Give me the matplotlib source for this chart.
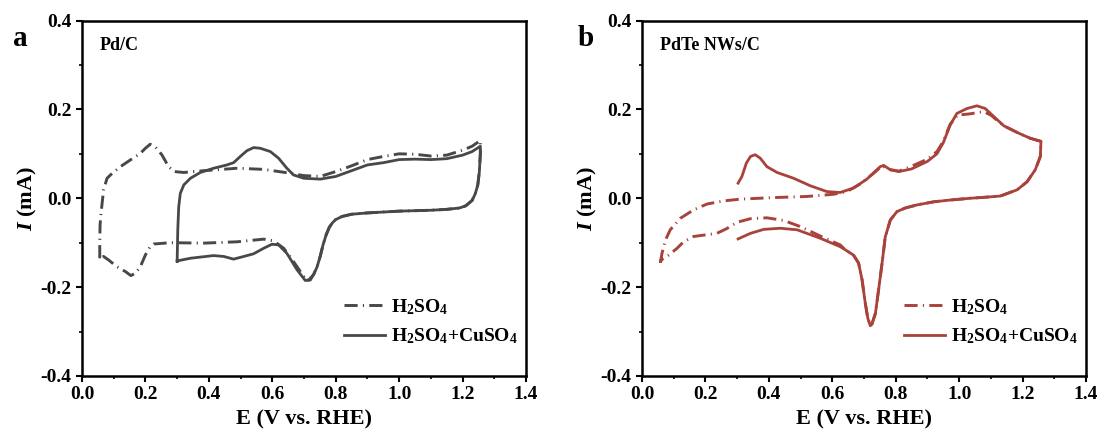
import matplotlib
matplotlib.use("Agg")
import matplotlib.pyplot as plt
from matplotlib.ticker import MultipleLocator

plt.rcParams['font.family'] = ['Liberation Serif', 'DejaVu Serif']
plt.rcParams['font.weight'] = 'bold'
plt.rcParams['mathtext.fontset'] = 'custom'
plt.rcParams['mathtext.rm'] = 'Liberation Serif:bold'
plt.rcParams['mathtext.bf'] = 'Liberation Serif:bold'
plt.rcParams['mathtext.it'] = 'Liberation Serif:italic:bold'

# ---------------- Panel a: Pd/C ----------------
a_h2so4_x = [0.056, 0.056, 0.057, 0.06, 0.068, 0.079, 0.095, 0.121, 0.152, 0.184, 0.2, 0.215,
             0.231, 0.252, 0.273, 0.291, 0.321, 0.384, 0.489, 0.573, 0.636, 0.699, 0.751,
             0.8, 0.85, 0.9, 0.95, 1.0, 1.05, 1.1, 1.15, 1.2, 1.23, 1.256,
             1.256, 1.253, 1.248, 1.24, 1.23, 1.21, 1.19, 1.15, 1.1, 1.0, 0.95, 0.9, 0.85, 0.82,
             0.8, 0.79, 0.78, 0.77, 0.76, 0.751, 0.741, 0.73, 0.715, 0.704, 0.699, 0.667, 0.636,
             0.604, 0.573, 0.489, 0.384, 0.279, 0.226, 0.215, 0.2, 0.184, 0.168, 0.154, 0.137,
             0.11, 0.084, 0.068, 0.056]
a_h2so4_y = [-0.135, -0.101, -0.06, -0.034, 0.019, 0.045, 0.056, 0.071, 0.086, 0.101, 0.1125, 0.1215,
             0.116, 0.0975, 0.071, 0.06, 0.058, 0.062, 0.0675, 0.065, 0.0585, 0.051, 0.049,
             0.06, 0.073, 0.087, 0.094, 0.1, 0.099, 0.095, 0.097, 0.108, 0.117, 0.13,
             0.1, 0.06, 0.03, 0.01, -0.005, -0.017, -0.022, -0.025, -0.027, -0.029, -0.031, -0.033,
             -0.036, -0.041,
             -0.048, -0.055, -0.065, -0.082, -0.105, -0.131, -0.155, -0.172, -0.184, -0.185, -0.176,
             -0.1425, -0.1125, -0.096, -0.092, -0.098, -0.101, -0.1, -0.103, -0.109, -0.1275, -0.154,
             -0.169, -0.174, -0.165, -0.154, -0.139, -0.131, -0.135]

a_cu_x = [0.3, 0.302, 0.305, 0.31, 0.321, 0.342, 0.373, 0.415, 0.457, 0.478, 0.499, 0.52, 0.541,
          0.562, 0.594, 0.62, 0.646, 0.667, 0.699, 0.751, 0.8, 0.85, 0.9, 0.95, 1.0, 1.05, 1.1,
          1.15, 1.2, 1.23, 1.256,
          1.256, 1.253, 1.248, 1.24, 1.23, 1.21, 1.19, 1.15, 1.1, 1.0, 0.95, 0.9, 0.85, 0.82,
          0.8, 0.79, 0.78, 0.77, 0.76, 0.751, 0.741, 0.73, 0.72, 0.704, 0.678, 0.646, 0.62,
          0.599, 0.573, 0.541, 0.51, 0.478, 0.447, 0.415, 0.342, 0.3]
a_cu_y = [-0.1425, -0.071, -0.019, 0.011, 0.03, 0.045, 0.058, 0.0675, 0.075, 0.08, 0.094, 0.107, 0.114,
          0.1125, 0.105, 0.09, 0.0675, 0.0525, 0.045, 0.043, 0.049, 0.062, 0.075, 0.08, 0.087, 0.088,
          0.087, 0.089, 0.097, 0.105, 0.117,
          0.1, 0.06, 0.03, 0.01, -0.005, -0.017, -0.022, -0.025, -0.027, -0.029, -0.031, -0.033,
          -0.036, -0.041,
          -0.048, -0.055, -0.065, -0.082, -0.105, -0.131, -0.155, -0.172, -0.184, -0.185, -0.161,
          -0.124, -0.105, -0.1035, -0.1125, -0.125, -0.131, -0.137, -0.131, -0.129, -0.135, -0.141]

# ---------------- Panel b: PdTe NWs/C ----------------
b_h2so4_x = [0.058, 0.063, 0.074, 0.089, 0.121, 0.163, 0.205, 0.257, 0.31, 0.415, 0.52, 0.604,
             0.646, 0.688, 0.73, 0.757, 0.778, 0.81, 0.85, 0.9, 0.93, 0.95, 0.972, 0.995, 1.035,
             1.077, 1.1, 1.141, 1.183, 1.224, 1.258,
             1.256, 1.24, 1.214, 1.183, 1.13, 1.077, 1.035, 0.972, 0.92, 0.867, 0.83, 0.804,
             0.783, 0.767, 0.757, 0.746, 0.736, 0.725, 0.72, 0.712, 0.704, 0.694, 0.683, 0.667,
             0.641, 0.625, 0.562, 0.5, 0.447, 0.394, 0.342, 0.3, 0.268, 0.236, 0.194, 0.163,
             0.131, 0.11, 0.084, 0.06, 0.058]
b_h2so4_y = [-0.145, -0.124, -0.094, -0.071, -0.045, -0.026, -0.013, -0.006, -0.002, 0.0015, 0.004,
             0.009, 0.015, 0.032, 0.056, 0.073, 0.065, 0.061, 0.072, 0.088, 0.105, 0.128, 0.167,
             0.187, 0.19, 0.195, 0.187, 0.163, 0.148, 0.135, 0.128,
             0.094, 0.064, 0.037, 0.019, 0.005, 0.002, 0.0, -0.004, -0.008, -0.015, -0.022, -0.03,
             -0.049, -0.087, -0.146, -0.206, -0.259, -0.283, -0.287, -0.27, -0.236, -0.184, -0.146,
             -0.128, -0.116, -0.105, -0.085, -0.064, -0.05, -0.044, -0.046, -0.054, -0.068, -0.079,
             -0.083, -0.086, -0.098, -0.113, -0.128, -0.139, -0.145]

b_cu_x = [0.303, 0.315, 0.329, 0.342, 0.357, 0.373, 0.394, 0.426, 0.478, 0.531, 0.583, 0.625,
          0.667, 0.709, 0.751, 0.762, 0.783, 0.81, 0.85, 0.9, 0.93, 0.95, 0.972, 0.993, 1.025,
          1.056, 1.082, 1.109, 1.141, 1.183, 1.224, 1.258,
          1.256, 1.24, 1.214, 1.183, 1.13, 1.077, 1.035, 0.972, 0.92, 0.867, 0.83, 0.804,
          0.783, 0.767, 0.757, 0.746, 0.736, 0.725, 0.72, 0.712, 0.704, 0.694, 0.683, 0.667,
          0.641, 0.625, 0.562, 0.489, 0.436, 0.384, 0.342, 0.303]
b_cu_y = [0.034, 0.049, 0.079, 0.094, 0.098, 0.09, 0.071, 0.058, 0.045, 0.028, 0.015, 0.013,
          0.023, 0.043, 0.071, 0.074, 0.064, 0.06, 0.066, 0.083, 0.1, 0.125, 0.165, 0.191, 0.202,
          0.208, 0.202, 0.184, 0.163, 0.148, 0.135, 0.128,
          0.094, 0.064, 0.037, 0.019, 0.005, 0.002, 0.0, -0.004, -0.008, -0.015, -0.022, -0.03,
          -0.049, -0.087, -0.146, -0.206, -0.259, -0.283, -0.287, -0.27, -0.236, -0.184, -0.146,
          -0.128, -0.116, -0.109, -0.09, -0.071, -0.0675, -0.07, -0.079, -0.0915]

labels = [r'H$_{2}$SO$_{4}$', r'H$_{2}$SO$_{4}$+CuSO$_{4}$']
xticks = [0.0, 0.2, 0.4, 0.6, 0.8, 1.0, 1.2, 1.4]
yticks = [-0.4, -0.2, 0.0, 0.2, 0.4]

panels = [
    dict(letter='a', name='Pd/C', color='#484848',
         d=(a_h2so4_x, a_h2so4_y), s=(a_cu_x, a_cu_y), left=82, letter_x=13),
    dict(letter='b', name='PdTe NWs/C', color='#A8423A',
         d=(b_h2so4_x, b_h2so4_y), s=(b_cu_x, b_cu_y), left=642, letter_x=578),
]

W, H = 1102, 434
AX_W, AX_TOP, AX_BOT = 444, 20.5, 376
fig = plt.figure(figsize=(W / 100, H / 100), dpi=100)

for p in panels:
    ax = fig.add_axes([p['left'] / W, (H - AX_BOT) / H, AX_W / W, (AX_BOT - AX_TOP) / H])
    ax.plot(p['d'][0], p['d'][1], color=p['color'], lw=2.1,
            linestyle=(0, (4.5, 1.8, 0.4, 1.8)), dash_joinstyle='round',
            label=labels[0])
    ax.plot(p['s'][0], p['s'][1], color=p['color'], lw=2.0,
            linestyle='-', solid_joinstyle='round', label=labels[1])
    ax.set_xlim(0, 1.4)
    ax.set_ylim(-0.4, 0.4)
    ax.set_xticks(xticks)
    ax.set_yticks(yticks)
    ax.set_xticklabels([f'{v:.1f}' for v in xticks])
    ax.set_yticklabels([f'{v:.1f}' for v in yticks])
    ax.xaxis.set_minor_locator(MultipleLocator(0.1))
    ax.yaxis.set_minor_locator(MultipleLocator(0.1))
    ax.tick_params(which='major', direction='out', length=4.5, width=1.5, labelsize=14, pad=3)
    ax.tick_params(which='minor', direction='out', length=2.5, width=1.2)
    for sp in ax.spines.values():
        sp.set_linewidth(1.8)
    for lab in ax.get_xticklabels() + ax.get_yticklabels():
        lab.set_fontweight('bold')
    ax.set_xlabel('E (V vs. RHE)', fontsize=16, fontweight='bold')
    ax.xaxis.set_label_coords(0.5, -0.093)
    ax.set_ylabel(r'$\mathit{I}$ (mA)', fontsize=16, fontweight='bold')
    ax.yaxis.set_label_coords(-0.097, 0.5)
    ax.text(0.057, 0.334, p['name'], fontsize=13, fontweight='bold', va='baseline')
    fig.text(p['letter_x'] / W, (H - 46) / H, p['letter'], fontsize=21, fontweight='bold',
             va='baseline')
    ax.legend(loc='upper left', bbox_to_anchor=(0.59, 0.222), frameon=False,
              fontsize=14, handlelength=2.1, handletextpad=0.3, labelspacing=0.5,
              borderpad=0, borderaxespad=0)

fig.savefig('out.png', dpi=100)
